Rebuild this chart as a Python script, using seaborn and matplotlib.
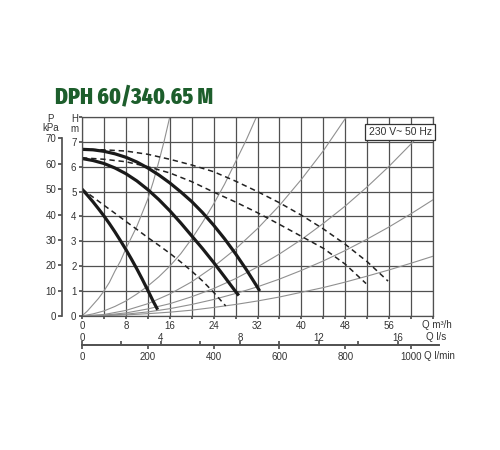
import numpy as np
import seaborn as sns
import matplotlib.pyplot as plt

# pump curves: Q in m3/h, H in m
q_solid_low = [0, 1, 2, 3, 4, 5, 6, 7, 8, 9, 10, 11, 12, 13, 13.8]
h_solid_low = [5.1, 4.85, 4.59, 4.31, 4.02, 3.71, 3.38, 3.03, 2.67, 2.29, 1.89, 1.47, 1.03, 0.58, 0.25]
q_solid_mid = [0, 2, 4, 6, 8, 10, 12, 14, 16, 18, 20, 22, 24, 26, 28, 28.6]
h_solid_mid = [6.33, 6.25, 6.13, 5.95, 5.72, 5.43, 5.08, 4.68, 4.23, 3.74, 3.22, 2.7, 2.15, 1.57, 0.98, 0.82]
q_solid_high = [0, 2, 4, 6, 8, 10, 12, 14, 16, 18, 20, 22, 24, 26, 28, 30, 32, 32.4]
h_solid_high = [6.7, 6.68, 6.62, 6.52, 6.38, 6.19, 5.95, 5.67, 5.35, 4.99, 4.6, 4.15, 3.65, 3.1, 2.5, 1.85, 1.15, 1.0]

q_dash_low = [0, 2, 4, 6, 8, 10, 12, 14, 16, 18, 20, 22, 24, 26.2]
h_dash_low = [5.1, 4.78, 4.45, 4.13, 3.8, 3.48, 3.15, 2.84, 2.52, 2.17, 1.8, 1.4, 0.95, 0.4]
q_dash_mid = [0, 4, 8, 12, 16, 20, 24, 28, 32, 36, 40, 44, 48, 51.8]
h_dash_mid = [6.36, 6.3, 6.2, 6.0, 5.75, 5.4, 4.98, 4.58, 4.15, 3.68, 3.2, 2.72, 2.08, 1.3]
q_dash_high = [0, 4, 8, 12, 16, 20, 24, 28, 32, 36, 40, 44, 48, 52, 55.8]
h_dash_high = [6.7, 6.68, 6.63, 6.5, 6.3, 6.07, 5.8, 5.42, 5.0, 4.55, 4.05, 3.5, 2.88, 2.18, 1.4]

# thin system curves
q_sys1 = [0, 1, 2, 3, 4, 5, 6, 7, 8, 9, 10, 11, 12, 13, 14, 15, 16]
h_sys1 = [0, 0.2, 0.45, 0.7, 1.0, 1.35, 1.8, 2.2, 2.7, 3.15, 3.6, 4.15, 4.7, 5.4, 6.2, 7.05, 8.0]
q_sys2 = [0, 2, 4, 6, 8, 10, 12, 14, 16, 18, 20, 22, 24, 26, 28, 30, 31.8]
h_sys2 = [0, 0.08, 0.2, 0.38, 0.6, 0.88, 1.2, 1.57, 2.0, 2.5, 3.1, 3.77, 4.5, 5.3, 6.2, 7.1, 8.0]
q_sys3 = [0, 4, 8, 12, 16, 20, 24, 28, 32, 36, 40, 44, 48.2]
h_sys3 = [0, 0.055, 0.22, 0.49, 0.88, 1.37, 1.98, 2.69, 3.51, 4.44, 5.49, 6.64, 8.0]
q_sys4 = [0, 4, 8, 12, 16, 20, 24, 28, 32, 36, 40, 44, 48, 52, 56, 60.5]
h_sys4 = [0, 0.03, 0.12, 0.28, 0.49, 0.77, 1.1, 1.5, 1.97, 2.49, 3.07, 3.72, 4.42, 5.19, 6.02, 7.03]
q_sys5 = [0, 4, 8, 12, 16, 20, 24, 28, 32, 36, 40, 44, 48, 52, 56, 60, 64]
h_sys5 = [0, 0.02, 0.07, 0.16, 0.29, 0.46, 0.66, 0.9, 1.17, 1.48, 1.83, 2.21, 2.63, 3.09, 3.58, 4.11, 4.67]
q_sys6 = [0, 4, 8, 12, 16, 20, 24, 28, 32, 36, 40, 44, 48, 52, 56, 60, 64]
h_sys6 = [0, 0.01, 0.04, 0.09, 0.15, 0.23, 0.34, 0.46, 0.6, 0.76, 0.95, 1.14, 1.36, 1.6, 1.85, 2.12, 2.4]

q_ticks = list(range(0, 65, 4))
h_ticks = list(range(0, 9))
p_ticks = list(range(0, 71, 10))
ls_ticks = list(range(0, 17, 2))
lmin_ticks = list(range(0, 1001, 200))

sns.set_theme(style='white')
plt.rcParams['font.family'] = ['Liberation Sans', 'DejaVu Sans']

fig = plt.figure(figsize=(5, 4.5), dpi=100)
ax = fig.add_axes([0.164, 0.298, 0.702, 0.442])

grid_col = '#505050'
txt_col = '#333333'

ax.set_xlim(0, 64)
ax.set_ylim(0, 8)
ax.set_xticks(q_ticks)
ax.set_xticklabels([str(v) if v % 8 == 0 and v < 64 else '' for v in q_ticks])
ax.set_yticks(h_ticks)
ax.set_yticklabels([str(v) if v < 8 else '' for v in h_ticks])
ax.grid(True, color=grid_col, lw=0.9)
for s in ax.spines.values():
    s.set_color(grid_col)
    s.set_linewidth(0.9)
ax.tick_params(axis='both', labelsize=7, labelcolor=txt_col, color=grid_col,
               length=2, pad=2, bottom=True, left=True)

for q, h in [(q_sys1, h_sys1), (q_sys2, h_sys2), (q_sys3, h_sys3),
             (q_sys4, h_sys4), (q_sys5, h_sys5), (q_sys6, h_sys6)]:
    sns.lineplot(x=q, y=h, ax=ax, color='#909090', lw=0.8, estimator=None, sort=False)

for q, h in [(q_dash_low, h_dash_low), (q_dash_mid, h_dash_mid), (q_dash_high, h_dash_high)]:
    sns.lineplot(x=q, y=h, ax=ax, color='#222222', lw=1.1, estimator=None, sort=False,
                 linestyle=(0, (3.5, 2.5)))

for q, h in [(q_solid_low, h_solid_low), (q_solid_mid, h_solid_mid), (q_solid_high, h_solid_high)]:
    sns.lineplot(x=q, y=h, ax=ax, color='#1a1a1a', lw=2.3, estimator=None, sort=False,
                 solid_capstyle='butt', solid_joinstyle='round')

# pressure axis on the far left
pax = ax.secondary_yaxis(-0.057, functions=(lambda h: h * 9.81, lambda p: p / 9.81))
pax.set_yticks(p_ticks)
pax.spines['left'].set_bounds(0, 70)
pax.spines['left'].set_color(grid_col)
pax.tick_params(labelsize=7, labelcolor=txt_col, color=grid_col, length=3, pad=1, left=True)

# flow axes under the chart
ls_ax = ax.secondary_xaxis(-0.146, functions=(lambda q: q / 3.6, lambda v: v * 3.6))
ls_ax.set_alignment('top')
ls_ax.set_xticks(ls_ticks)
ls_ax.set_xticklabels([str(v) if v % 4 == 0 else '' for v in ls_ticks])
ls_ax.spines['top'].set_color(grid_col)
ls_ax.spines['top'].set_bounds(0, 18.1)
ls_ax.tick_params(labelsize=7, labelcolor=txt_col, color=grid_col, length=3, pad=-1.5, top=True)

lm_ax = ax.secondary_xaxis(-0.146, functions=(lambda q: q * 50 / 3, lambda v: v * 3 / 50))
lm_ax.set_xticks(lmin_ticks)
lm_ax.spines['bottom'].set_color(grid_col)
lm_ax.spines['bottom'].set_bounds(0, 1086)
lm_ax.tick_params(labelsize=7, labelcolor=txt_col, color=grid_col, length=3, pad=2, bottom=True)

ax.text(62, -0.36, 'Q m³/h', fontsize=7, color=txt_col, ha='left', va='center')
ax.text(62.7, -0.84, 'Q l/s', fontsize=7, color=txt_col, ha='left', va='center')
ax.text(62.3, -1.6, 'Q l/min', fontsize=7, color=txt_col, ha='left', va='center')
ax.text(-1.3, 7.92, 'H', fontsize=7, color=txt_col, ha='center', va='center')
ax.text(-1.3, 7.52, 'm', fontsize=7, color=txt_col, ha='center', va='center')
ax.text(-5.8, 7.92, 'P', fontsize=7, color=txt_col, ha='center', va='center')
ax.text(-5.8, 7.55, 'kPa', fontsize=7, color=txt_col, ha='center', va='center')

ax.text(0.906, 0.925, '230 V~ 50 Hz', transform=ax.transAxes, ha='center', va='center',
        fontsize=7.5, color=txt_col, zorder=6,
        bbox=dict(boxstyle='square,pad=0.3', fc='white', ec='#333333', lw=0.9))

fig.text(55 / 500, 1 - 103 / 450, 'DPH 60/340.65 M', fontsize=17, fontweight=800,
         color='#1d5e2c', family=['Fira Sans Extra Condensed', 'DejaVu Sans'], va='baseline')

fig.savefig('out.png', dpi=100)
